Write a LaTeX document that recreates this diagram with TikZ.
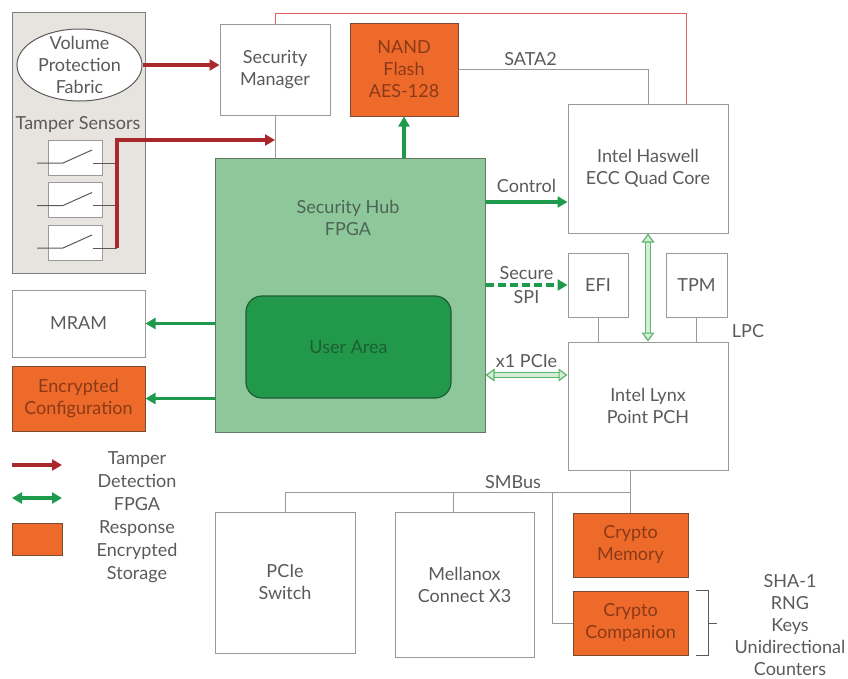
\documentclass[tikz,border=0pt]{standalone}
\usepackage{fontspec}
\setmainfont{Lato}
\usetikzlibrary{shapes.geometric, arrows.meta}

\definecolor{txtgray}{HTML}{5A5A5A}
\definecolor{boxgray}{HTML}{9A9A9A}
\definecolor{paneledge}{HTML}{7E7E7E}
\definecolor{panelgray}{HTML}{E7E4E0}
\definecolor{cryptoorange}{HTML}{EE6A2A}
\definecolor{orangeedge}{HTML}{7A4A35}
\definecolor{orangetxt}{HTML}{8A3A18}
\definecolor{fpgagreen}{HTML}{8EC79A}
\definecolor{fpgaedge}{HTML}{5F7A64}
\definecolor{fpgatxt}{HTML}{4E6454}
\definecolor{userareagreen}{HTML}{22994A}
\definecolor{userareaedge}{HTML}{1D5E33}
\definecolor{linkgreen}{HTML}{1E9A4C}
\definecolor{tamperred}{HTML}{A8282C}
\definecolor{hollowfill}{HTML}{D4EDD6}
\definecolor{hollowedge}{HTML}{5DB56C}
\definecolor{redwire}{HTML}{E06060}

\newcommand{\diagfont}{\fontsize{18}{22}\selectfont}

\tikzstyle{graybox} = [
    rectangle,
    draw=boxgray,
    line width=1pt,
    fill=white,
    text=txtgray,
    align=center,
    inner sep=2pt
]
\tikzstyle{cryptobox} = [
    rectangle,
    draw=orangeedge,
    line width=1pt,
    fill=cryptoorange,
    text=orangetxt,
    align=center,
    inner sep=2pt
]
\tikzstyle{sensorbox} = [
    rectangle,
    draw=boxgray,
    line width=1pt,
    fill=white,
    minimum width=54pt,
    minimum height=35pt
]
\tikzstyle{textlabel} = [text=txtgray, align=center, inner sep=1pt]
\tikzstyle{bus} = [draw=boxgray, line width=1pt]
\tikzstyle{redbus} = [draw=redwire, line width=1pt]
\tikzstyle{switchlead} = [draw=txtgray, line width=1pt]
\tikzstyle{tamperarrow} = [draw=tamperred, line width=3.2pt, -{Triangle[length=10pt,width=11pt]}]
\tikzstyle{fpgaarrow} = [draw=linkgreen, line width=3.4pt, -{Triangle[length=10pt,width=11pt]}]
\tikzstyle{fpgaboth} = [draw=linkgreen, line width=3.4pt, {Triangle[length=10pt,width=11pt]}-{Triangle[length=10pt,width=11pt]}]
\tikzstyle{spiarrow} = [fpgaarrow, dash pattern=on 8pt off 4pt]
\tikzstyle{hollowarrow} = [
    draw=hollowedge,
    line width=1.2pt,
    double=hollowfill,
    double distance=3.5pt,
    {Triangle[fill=hollowfill,length=9pt,width=13pt]}-{Triangle[fill=hollowfill,length=9pt,width=13pt]}
]

\begin{document}
\begin{tikzpicture}[x=1pt, y=-1pt, font=\diagfont]
\useasboundingbox (0,0) rectangle (848,678);

% tamper sensing panel
\node (panel) [rectangle, draw=paneledge, line width=1pt, fill=panelgray, minimum width=133pt, minimum height=261pt] at (78.5,142.5) {};
\node (vpf) [ellipse, draw=txtgray, line width=1pt, fill=white, minimum width=125pt, minimum height=72pt] at (79.5,65) {};
\node (vpflabel) [textlabel] at (vpf) {Volume\\Protection\\Fabric};
\node (sensorlabel) [textlabel] at (78,125) {Tamper Sensors};

\node (sw1) [sensorbox] at (75,157.5) {};
\node (sw2) [sensorbox] at (75,200) {};
\node (sw3) [sensorbox] at (75,242.5) {};

\draw [switchlead] (sw1.center) ++(-38,5.5) -- ++(26,0) -- ++(29,-13);
\draw [switchlead] (sw1.center) ++(18,5.5) -- ++(24,0);
\draw [switchlead] (sw2.center) ++(-38,5.5) -- ++(26,0) -- ++(29,-13);
\draw [switchlead] (sw2.center) ++(18,5.5) -- ++(24,0);
\draw [switchlead] (sw3.center) ++(-38,5.5) -- ++(26,0) -- ++(29,-13);
\draw [switchlead] (sw3.center) ++(18,5.5) -- ++(24,0);

% main blocks
\node (secmgr) [graybox, minimum width=110pt, minimum height=91pt] at (275,69.5) {Security\\Manager};
\node (nand) [cryptobox, minimum width=108pt, minimum height=93pt] at (404,69.5) {NAND\\Flash\\AES-128};
\node (fpga) [rectangle, draw=fpgaedge, line width=1pt, fill=fpgagreen, minimum width=270pt, minimum height=274pt] at (350,295) {};
\node (fpgalabel) [textlabel, text=fpgatxt] at (348,218) {Security Hub\\FPGA};
\node (userarea) [rectangle, rounded corners=16pt, draw=userareaedge, line width=1.2pt, fill=userareagreen, text=userareaedge, minimum width=205pt, minimum height=102pt] at (348.5,347) {User Area};

\node (haswell) [graybox, minimum width=160pt, minimum height=129pt] at (648,168.5) {Intel Haswell\\ECC Quad Core};
\node (efi) [graybox, minimum width=60pt, minimum height=64pt] at (598,285) {EFI};
\node (tpm) [graybox, minimum width=61pt, minimum height=64pt] at (696.5,285) {TPM};
\node (lynx) [graybox, minimum width=160pt, minimum height=128pt] at (648,406) {Intel Lynx\\Point PCH};
\node (lpc) [textlabel] at (748,331) {LPC};

\node (mram) [graybox, minimum width=133pt, minimum height=67pt] at (78.5,323.5) {MRAM};
\node (encconf) [cryptobox, minimum width=133pt, minimum height=65pt] at (78.5,398.5) {Encrypted\\Configuration};

\node (pcieswitch) [graybox, minimum width=140pt, minimum height=141pt] at (285,582.5) {PCIe\\Switch};
\node (mellanox) [graybox, minimum width=139pt, minimum height=145pt] at (464.5,584.5) {Mellanox\\Connect X3};
\node (cryptomem) [cryptobox, minimum width=115pt, minimum height=64pt] at (630.5,545) {Crypto\\Memory};
\node (cryptocomp) [cryptobox, minimum width=115pt, minimum height=64pt] at (630.5,623) {Crypto\\Companion};
\node (cryptofeat) [textlabel] at (790,625) {SHA-1\\RNG\\Keys\\Unidirectional\\Counters};

% legend
\coordinate (legtamperA) at (12,465);
\coordinate (legtamperB) at (62,465);
\coordinate (legfpgaA) at (12,498);
\coordinate (legfpgaB) at (62,498);
\node (legstorage) [cryptobox, minimum width=50pt, minimum height=32pt] at (37,539) {};
\node (legendtext) [textlabel, font=\fontsize{18}{23}\selectfont] at (137,517) {Tamper\\Detection\\FPGA\\Response\\Encrypted\\Storage};

\draw [tamperarrow] (legtamperA) -- (legtamperB);
\draw [fpgaboth] (legfpgaA) -- (legfpgaB);

% tamper paths
\coordinate (sensorbus) at (117,248);
\coordinate (redtop) at (686,13);

\draw [tamperarrow] (vpf.east) -- (vpf.east -| secmgr.west);
\draw [tamperarrow] (sensorbus) |- (secmgr.south |- 0,140);
\draw [bus] (secmgr.south) -- (secmgr.south |- fpga.north);
\draw [redbus] (secmgr.north) |- (redtop) -- (redtop |- haswell.north);

% fpga links
\draw [fpgaarrow] (nand.south |- fpga.north) -- (nand.south);
\draw [fpgaarrow] (fpga.east |- 0,202) -- (haswell.west |- 0,202) node[midway, above=7pt, textlabel] {Control};
\draw [spiarrow] (fpga.east |- efi.west) -- (efi.west)
    node[midway, above=3pt, textlabel] {Secure}
    node[midway, below=3pt, textlabel] {SPI};
\draw [hollowarrow] (fpga.east |- 0,375) -- (lynx.west |- 0,375) node[midway, above=6pt, textlabel] {x1 PCIe};
\draw [fpgaarrow] (fpga.west |- mram.east) -- (mram.east);
\draw [fpgaarrow] (fpga.west |- encconf.east) -- (encconf.east);

% host buses
\draw [bus] (nand.east) -| (haswell.north) node[pos=0.19, above=2pt, textlabel] {SATA2};
\draw [hollowarrow] (haswell.south) -- (lynx.north);
\draw [bus] (efi.south) -- (efi.south |- lynx.north);
\draw [bus] (tpm.south) -- (tpm.south |- lynx.north);

% smbus
\coordinate (smbus) at (630.5,492);
\coordinate (mlxtap) at (453,492);
\coordinate (comptap) at (552,492);

\draw [bus] (lynx.south -| smbus) -- (cryptomem.north -| smbus);
\draw [bus] (pcieswitch.north) |- (smbus) node[pos=0.83, above=2pt, textlabel] {SMBus};
\draw [bus] (mlxtap) -- (mlxtap |- mellanox.north);
\draw [bus] (comptap) |- (cryptocomp.west);

% crypto companion bracket
\draw [bus, draw=txtgray] ([xshift=7pt]cryptocomp.north east) -- ([xshift=20pt]cryptocomp.north east) -- ([xshift=20pt]cryptocomp.south east) -- ([xshift=7pt]cryptocomp.south east);
\draw [bus, draw=txtgray] ([xshift=20pt]cryptocomp.east) -- ([xshift=28pt]cryptocomp.east);

\end{tikzpicture}
\end{document}
